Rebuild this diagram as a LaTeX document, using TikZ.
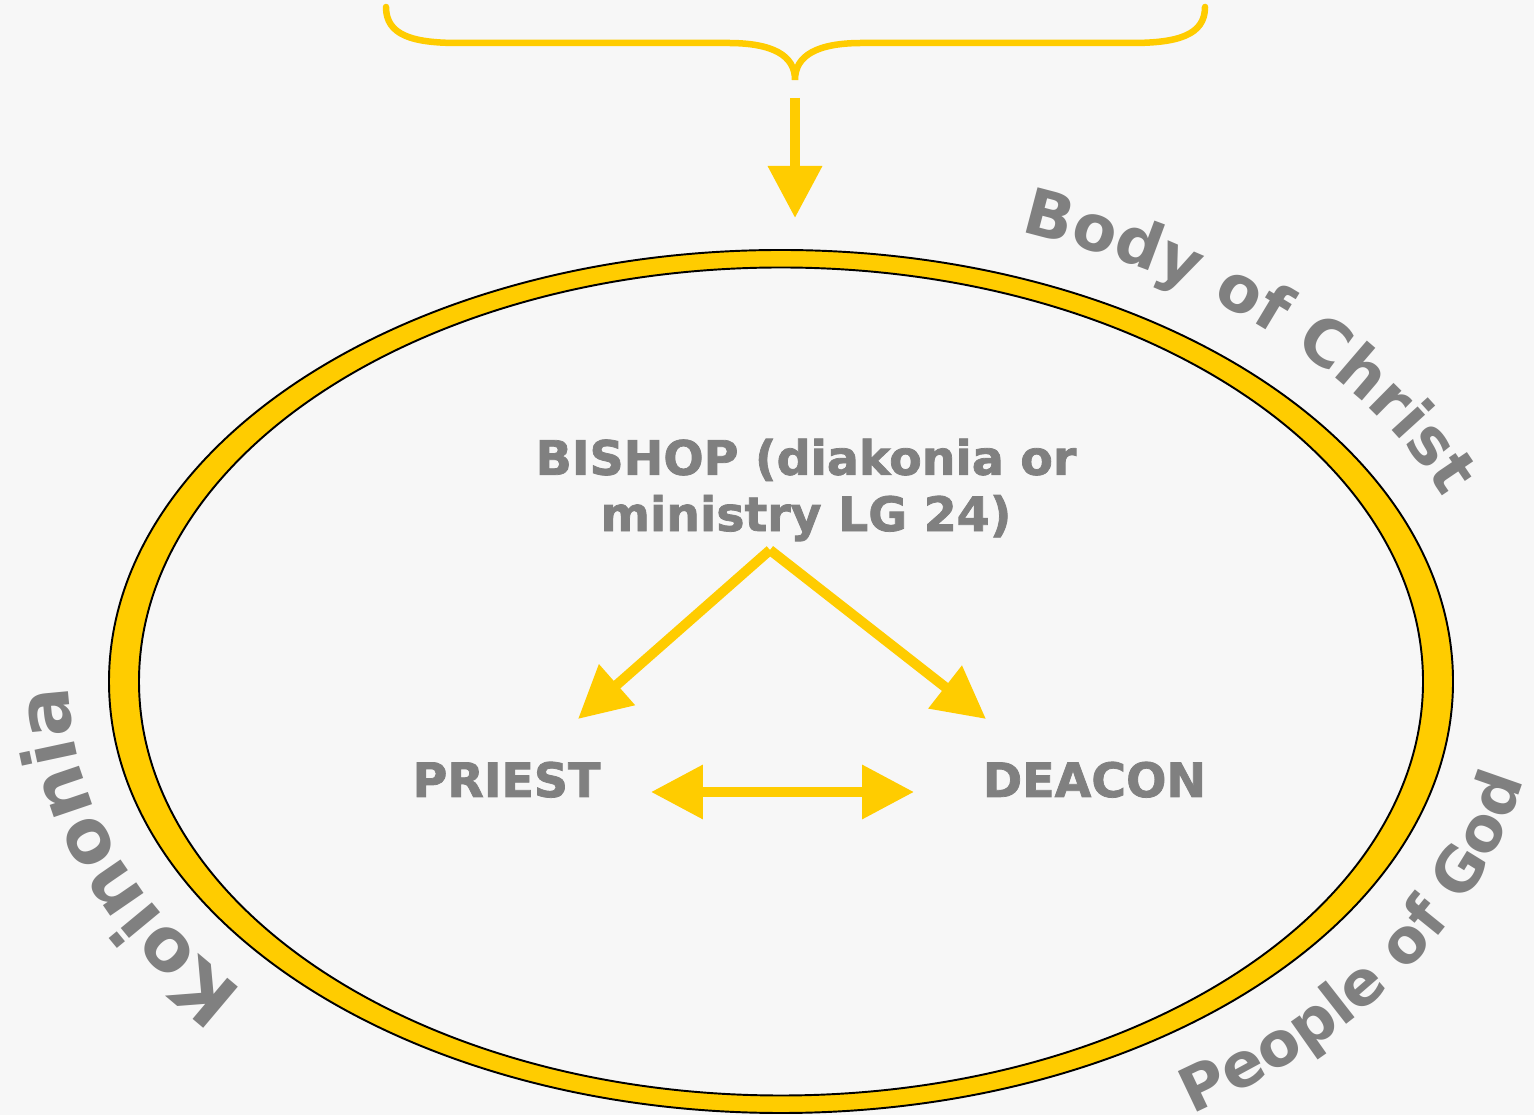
\documentclass[tikz,border=0pt]{standalone}
\usepackage{fontspec}
\setmainfont{DejaVu Sans}
\newfontfamily\heavyfont{DejaVu Sans}[BoldFeatures={FakeBold=1.6}]
\usetikzlibrary{arrows.meta, decorations.text}

\definecolor{ringyellow}{HTML}{FFCC00}
\definecolor{labelgray}{HTML}{808080}
\definecolor{paper}{HTML}{F7F7F7}

\newcommand{\bodyfont}{\bfseries\fontsize{36.5}{40}\selectfont}
\newcommand{\peoplefont}{\bfseries\fontsize{35}{40}\selectfont}
\newcommand{\koinfont}{\bfseries\fontsize{42}{46}\selectfont}

\begin{document}
\begin{tikzpicture}[x=0.02cm, y=0.02cm,
    yarrow/.style={draw=ringyellow, line width=0.2cm, -{Triangle[length=1.04cm, width=1.04cm]}},
    role/.style={font=\heavyfont\bfseries\fontsize{27}{32}\selectfont, text=labelgray, inner sep=0pt},
    curved/.style={decorate, decoration={text along path, text color=labelgray, text={#1}}}]
		\tikzstyle{ring}=[draw=black, line width=1.1pt, fill=ringyellow, even odd rule]
		\tikzstyle{brace}=[draw=ringyellow, line width=0.13cm, line cap=round]
		
		\useasboundingbox (0,0) rectangle (1534,1115);
		\fill[paper] (0,0) rectangle (1534,1115);
		
		\coordinate (centre)   at (781,433.5);
		\coordinate (bracetip) at (795,1035);
		\coordinate (drop)     at (795,1017);
		\coordinate (target)   at (795,897);
		
		% brace and the arrow under it
		\draw[brace] (386,1108) .. controls (386,1080) and (412,1072) .. (458,1072) -- (728,1072)
		.. controls (772,1072) and (795,1060) .. (bracetip)
		.. controls (795,1060) and (818,1072) .. (862,1072) -- (1132,1072)
		.. controls (1178,1072) and (1205,1080) .. (1205,1108);
		\draw[yarrow] (drop) -- (target);
		
		% the church
		\draw[ring] (centre) ellipse [x radius=672, y radius=431.5]
		(centre) ellipse [x radius=642, y radius=414];
		
		\begin{scope}[shift={(centre)}]
			\path[curved={|\bodyfont|Body of Christ}] (70.5:718 and 477.5) arc[start angle=70.5, end angle=5, x radius=718, y radius=477.5];
			\path[curved={|\peoplefont|People of God}] (-57:756 and 515.5) arc[start angle=-57, end angle=8, x radius=756, y radius=515.5];
			\path[curved={|\koinfont|Koinonia}] (221:712 and 471.5) arc[start angle=221, end angle=160, x radius=712, y radius=471.5];
		\end{scope}
		
		\node[role, align=center] (bishop) at (806,625) {BISHOP (diakonia or\\ministry LG 24)};
		\node[role, anchor=base]  (priest) at (506.5,318) {PRIEST};
		\node[role, anchor=base]  (deacon) at (1094.5,318) {DEACON};
		
		\coordinate (apex) at (770,565);
		\coordinate (ptip) at (578,396);
		\coordinate (dtip) at (986,396);
		\coordinate (pend) at (651,323);
		\coordinate (dend) at (914,323);
		
		\draw[yarrow] (apex) -- (ptip);
		\draw[yarrow] (apex) -- (dtip);
		\draw[yarrow, {Triangle[length=1.04cm, width=1.04cm]}-{Triangle[length=1.04cm, width=1.04cm]}] (pend) -- (dend);
	\end{tikzpicture}
\end{document}
